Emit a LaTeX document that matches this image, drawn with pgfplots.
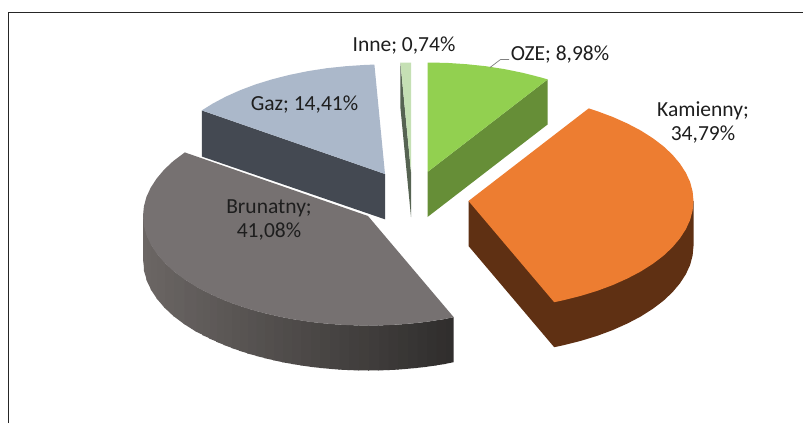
\documentclass[border=0pt]{standalone}
\usepackage{pgfplots}
\pgfplotsset{compat=1.18}
\usepackage{fontspec}
\setmainfont{Carlito}
\pgfplotsset{
  s/.style n args={3}{fill={rgb,255:red,#1;green,#2;blue,#3},draw=none},
  face/.style={fill=#1,draw=none},
}
\tikzset{lab/.style={font=\fontsize{21.5}{24.5}\selectfont,text=txt,align=center,inner sep=0pt}}
\definecolor{ozeT}{HTML}{92D050}
\definecolor{ozeS}{HTML}{668E37}
\definecolor{inneT}{HTML}{C5E0B4}
\definecolor{inneS}{HTML}{566352}
\definecolor{kamT}{HTML}{ED7D31}
\definecolor{kamS}{HTML}{5F3013}
\definecolor{bruT}{HTML}{767171}
\definecolor{gazT}{HTML}{ABB8CA}
\definecolor{gazS}{HTML}{444952}
\definecolor{txt}{HTML}{1E1E1E}
\definecolor{frm}{HTML}{262626}
\begin{document}
\begin{tikzpicture}
\begin{axis}[
  at={(0,0)},anchor=south west,
  width=803pt,height=423pt,scale only axis,
  xmin=0,xmax=803,ymin=0,ymax=423,y dir=reverse,
  axis lines=none,
  clip=true,
]
% page
\addplot[fill=white,draw=none] coordinates {(0,0)(803,0)(803,423)(0,423)(0,0)};
% frame
\addplot[draw=frm,line width=1.1pt] coordinates {(8.5,423)(8.5,12.5)(803,12.5)};

% Gaz
\addplot[face=gazS] coordinates {(201.8,110.4)(385,174)(385,219.3)(201.8,156.5)(201.8,110.4)};
\addplot[face=gazT] coordinates {(385,174)(201.8,110.4)(212.7,103.6)(225.9,96.6)(240.4,90.1)(255.9,84.3)(272.5,79.2)(289.9,74.8)(308.1,71.1)(326.8,68.2)(345.9,66.2)(365.4,64.9)(374.4,64.6)(385,174)};

% Inne
\addplot[face=inneS] coordinates {(400.4,62.6)(411,172)(411,217)(400.4,107.6)(400.4,62.6)};
\addplot[face=inneT] coordinates {(411,172)(400.4,62.6)(411,62.5)(411,172)};

% OZE
\addplot[face=ozeS] coordinates {(427.5,172)(547.7,79.4)(547.7,124.4)(427.5,217)(427.5,172)};
\addplot[face=ozeT] coordinates {(427.5,172)(427.5,62.5)(447.1,62.9)(466.6,64.2)(485.7,66.2)(504.5,69.1)(522.6,72.8)(540,77.2)(547.7,79.4)(427.5,172)};
\addplot[draw=gray,line width=0.7pt] coordinates {(490,67.5)(500.5,59.5)(509,59.5)};

% Kamienny
\addplot[face=kamS] coordinates {(468.5,201)(468.5,246)(554.2,347.2)(563.6,345.2)(581,340.8)(597.6,335.7)(613.1,329.9)(627.6,323.4)(640.9,316.4)(652.8,308.8)(663.4,300.8)(672.4,292.3)(679.9,283.4)(685.8,274.3)(690.1,265)(692.6,255.5)(693.5,246)(693.5,201)(468.5,201)};
\addplot[face=kamT] coordinates {(468.5,201)(588.7,108.4)(597.6,111.3)(613.1,117.1)(627.6,123.6)(640.9,130.6)(652.8,138.2)(663.4,146.2)(672.4,154.7)(679.9,163.6)(685.8,172.7)(690.1,182)(692.6,191.5)(693.5,201)(692.6,210.5)(690.1,220)(685.8,229.3)(679.9,238.4)(672.4,247.3)(663.4,255.8)(652.8,263.8)(640.9,271.4)(627.6,278.4)(613.1,284.9)(597.6,290.7)(581,295.8)(563.6,300.2)(554.2,302.2)(468.5,201)};

% Brunatny: rim, darker to the right; each strip overlaps the one before it
\addplot[s={48}{46}{45}] coordinates {(453.7,317.2)(445,318.9)(445,363.9)(453.7,362.2)(453.7,317.2)};
\addplot[s={50}{47}{46}] coordinates {(446,318.9)(435.7,320.4)(435.7,365.4)(446,363.9)(446,318.9)};
\addplot[s={51}{49}{48}] coordinates {(436.7,320.4)(426.2,321.8)(426.2,366.8)(436.7,365.4)(436.7,320.4)};
\addplot[s={53}{51}{50}] coordinates {(427.2,321.8)(416.7,322.9)(416.7,367.9)(427.2,366.8)(427.2,321.8)};
\addplot[s={55}{53}{52}] coordinates {(417.7,322.9)(407.1,323.8)(407.1,368.8)(417.7,367.9)(417.7,322.9)};
\addplot[s={57}{55}{53}] coordinates {(408.1,323.8)(397.4,324.6)(397.4,369.6)(408.1,368.8)(408.1,323.8)};
\addplot[s={59}{56}{55}] coordinates {(398.4,324.6)(387.6,325.1)(387.6,370.1)(398.4,369.6)(398.4,324.6)};
\addplot[s={61}{58}{57}] coordinates {(388.6,325.1)(377.8,325.4)(377.8,370.4)(388.6,370.1)(388.6,325.1)};
\addplot[s={63}{60}{59}] coordinates {(378.8,325.4)(368,325.5)(368,370.5)(378.8,370.4)(378.8,325.4)};
\addplot[s={65}{62}{60}] coordinates {(369,325.5)(358.2,325.4)(358.2,370.4)(369,370.5)(369,325.5)};
\addplot[s={66}{63}{62}] coordinates {(359.2,325.4)(348.4,325.1)(348.4,370.1)(359.2,370.4)(359.2,325.4)};
\addplot[s={68}{65}{64}] coordinates {(349.4,325.1)(338.6,324.6)(338.6,369.6)(349.4,370.1)(349.4,325.1)};
\addplot[s={70}{67}{66}] coordinates {(339.6,324.6)(328.9,323.8)(328.9,368.8)(339.6,369.6)(339.6,324.6)};
\addplot[s={72}{69}{67}] coordinates {(329.9,323.8)(319.3,322.9)(319.3,367.9)(329.9,368.8)(329.9,323.8)};
\addplot[s={74}{71}{69}] coordinates {(320.3,322.9)(309.8,321.8)(309.8,366.8)(320.3,367.9)(320.3,322.9)};
\addplot[s={76}{72}{71}] coordinates {(310.8,321.8)(300.3,320.4)(300.3,365.4)(310.8,366.8)(310.8,321.8)};
\addplot[s={78}{74}{73}] coordinates {(301.3,320.4)(291,318.9)(291,363.9)(301.3,365.4)(301.3,320.4)};
\addplot[s={79}{76}{74}] coordinates {(292,318.9)(281.9,317.2)(281.9,362.2)(292,363.9)(292,318.9)};
\addplot[s={81}{77}{76}] coordinates {(282.9,317.2)(272.9,315.2)(272.9,360.2)(282.9,362.2)(282.9,317.2)};
\addplot[s={83}{79}{77}] coordinates {(273.9,315.2)(264.1,313.1)(264.1,358.1)(273.9,360.2)(273.9,315.2)};
\addplot[s={84}{81}{79}] coordinates {(265.1,313.1)(255.5,310.8)(255.5,355.8)(265.1,358.1)(265.1,313.1)};
\addplot[s={86}{82}{81}] coordinates {(256.5,310.8)(247.1,308.4)(247.1,353.4)(256.5,355.8)(256.5,310.8)};
\addplot[s={88}{84}{82}] coordinates {(248.1,308.4)(238.9,305.7)(238.9,350.7)(248.1,353.4)(248.1,308.4)};
\addplot[s={89}{85}{83}] coordinates {(239.9,305.7)(231,302.9)(231,347.9)(239.9,350.7)(239.9,305.7)};
\addplot[s={91}{87}{85}] coordinates {(232,302.9)(223.4,299.9)(223.4,344.9)(232,347.9)(232,302.9)};
\addplot[s={92}{88}{86}] coordinates {(224.4,299.9)(216,296.7)(216,341.7)(224.4,344.9)(224.4,299.9)};
\addplot[s={94}{89}{88}] coordinates {(217,296.7)(208.9,293.4)(208.9,338.4)(217,341.7)(217,296.7)};
\addplot[s={95}{91}{89}] coordinates {(209.9,293.4)(202.1,290)(202.1,335)(209.9,338.4)(209.9,293.4)};
\addplot[s={96}{92}{90}] coordinates {(203.1,290)(195.6,286.4)(195.6,331.4)(203.1,335)(203.1,290)};
\addplot[s={98}{93}{92}] coordinates {(196.6,286.4)(183.7,278.8)(183.7,323.8)(196.6,332)(196.6,286.4)};
\addplot[s={100}{96}{94}] coordinates {(184.7,278.8)(173.1,270.8)(173.1,315.8)(184.7,324.5)(184.7,278.8)};
\addplot[s={102}{97}{95}] coordinates {(174.1,270.8)(164.1,262.3)(164.1,307.3)(174.1,316.7)(174.1,270.8)};
\addplot[s={104}{99}{97}] coordinates {(165.1,262.3)(156.6,253.4)(156.6,298.4)(165.1,308.4)(165.1,262.3)};
\addplot[s={105}{100}{98}] coordinates {(157.6,253.4)(150.7,244.3)(150.7,289.3)(157.6,299.7)(157.6,253.4)};
\addplot[s={106}{101}{99}] coordinates {(151.7,244.3)(146.4,235)(146.4,280)(151.7,290.9)(151.7,244.3)};
\addplot[s={107}{102}{100}] coordinates {(147.4,235)(143.9,225.5)(143.9,270.5)(147.4,282)(147.4,235)};
\addplot[s={107}{102}{100}] coordinates {(144.9,225.5)(143.2,216)(143.2,261)(144.9,273)(144.9,225.5)};
\addplot[face=bruT] coordinates {(368,216)(453.7,317.2)(445,318.9)(435.7,320.4)(426.2,321.8)(416.7,322.9)(407.1,323.8)(397.4,324.6)(387.6,325.1)(377.8,325.4)(368,325.5)(358.2,325.4)(348.4,325.1)(338.6,324.6)(328.9,323.8)(319.3,322.9)(309.8,321.8)(300.3,320.4)(291,318.9)(281.9,317.2)(272.9,315.2)(264.1,313.1)(255.5,310.8)(247.1,308.4)(238.9,305.7)(231,302.9)(223.4,299.9)(216,296.7)(208.9,293.4)(202.1,290)(195.6,286.4)(183.7,278.8)(173.1,270.8)(164.1,262.3)(156.6,253.4)(150.7,244.3)(146.4,235)(143.9,225.5)(143,216)(143.9,206.5)(146.4,197)(150.7,187.7)(156.6,178.6)(164.1,169.7)(173.1,161.2)(184.8,152.4)(368,216)};

% labels
\node[lab] at (axis cs:404,45.5) {Inne; 0,74\%};
\node[lab] at (axis cs:560,54.5) {OZE; 8,98\%};
\node[lab] at (axis cs:703,122.5) {Kamienny;\\34,79\%};
\node[lab] at (axis cs:304.5,104.5) {Gaz; 14,41\%};
\node[lab] at (axis cs:269,220) {Brunatny;\\41,08\%};
\end{axis}
\end{tikzpicture}
\end{document}
